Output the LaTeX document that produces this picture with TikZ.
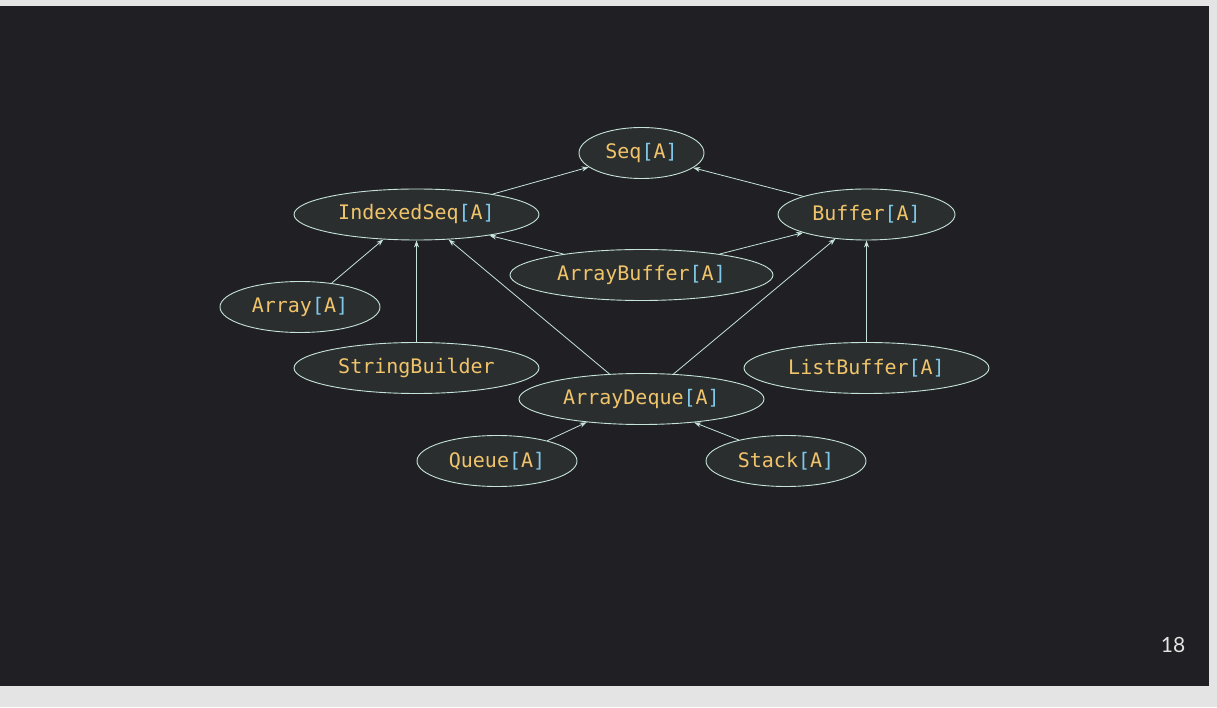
\documentclass[tikz,border=0pt]{standalone}
\usepackage{fontspec}
\setmonofont{DejaVu Sans Mono}
\newfontfamily\pagefont{Lato}
\usetikzlibrary{arrows.meta,shapes.geometric}
\definecolor{slidebg}{HTML}{202024}
\definecolor{pagegrey}{HTML}{E4E4E4}
\definecolor{cellfill}{HTML}{2B2E2F}
\definecolor{mint}{HTML}{C5E3D8}
\definecolor{typename}{HTML}{F0C46A}
\definecolor{bracket}{HTML}{80C8E8}
\newcommand{\gen}[1]{#1\textcolor{bracket}{[}A\textcolor{bracket}{]}}
\tikzset{
  cls/.style={ellipse,draw=mint,line width=0.9pt,fill=cellfill,inner sep=0pt,
    minimum height=51pt,minimum width=245pt,text=typename,
    font=\ttfamily\fontsize{20}{24}\selectfont},
  inh/.style={draw=mint,line width=0.8pt,-{Stealth[length=7pt,width=5pt]}}
}
\begin{document}
\begin{tikzpicture}[x=1pt,y=1pt]
\useasboundingbox (0,0) rectangle (1217,707);
\fill[pagegrey] (0,0) rectangle (1217,707);
\fill[slidebg] (0,21) rectangle (1209,701);
\node[cls,minimum width=125pt] (seq) at (641.5,554) {\gen{Seq}};
\node[cls] (idx) at (416.5,492.5) {\gen{IndexedSeq}};
\node[cls,minimum width=177pt] (buf) at (866.5,492.5) {\gen{Buffer}};
\node[cls,minimum width=263pt] (abuf) at (641.5,432) {\gen{ArrayBuffer}};
\node[cls,minimum width=160pt] (arr) at (300,400) {\gen{Array}};
\node[cls] (sb) at (416.5,339) {StringBuilder};
\node[cls] (lbuf) at (866.5,339) {\gen{ListBuffer}};
\node[cls] (adq) at (641.5,308) {\gen{ArrayDeque}};
\node[cls,minimum width=160pt] (que) at (497,246) {\gen{Queue}};
\node[cls,minimum width=160pt] (stk) at (786,246) {\gen{Stack}};
\node[text=pagegrey,font=\pagefont\fontsize{21}{24}\selectfont] (pnum) at (1173,62) {18};
\draw[inh] (idx.15.9) -- (seq.195.7);
\draw[inh] (buf.164.8) -- (seq.344);
\draw[inh] (abuf.165.5) -- (idx.344.1);
\draw[inh] (abuf.15.4) -- (buf.196.5);
\draw[inh] (arr.37.5) -- (idx.217.9);
\draw[inh] (sb.north) -- (idx.south);
\draw[inh] (adq.142.7) -- (idx.322);
\draw[inh] (adq.38.2) -- (buf.218.3);
\draw[inh] (lbuf.north) -- (buf.south);
\draw[inh] (que.22.6) -- (adq.203.8);
\draw[inh] (stk.156.9) -- (adq.336.6);
\end{tikzpicture}
\end{document}
